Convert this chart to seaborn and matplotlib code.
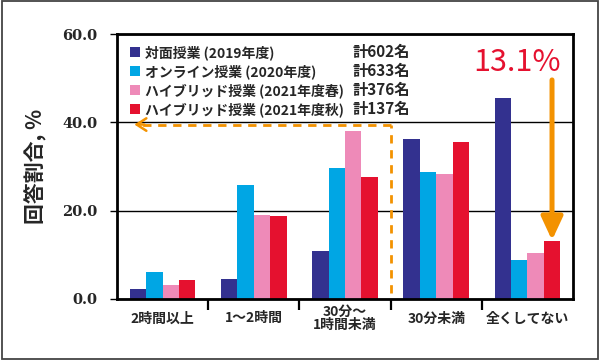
import matplotlib
matplotlib.use("Agg")
import matplotlib.pyplot as plt
from matplotlib.patches import Patch, Rectangle
import seaborn as sns
import pandas as pd
import numpy as np

# ---- data ----
categories = ["2時間以上", "1～2時間", "30分～\n1時間未満", "30分未満", "全くしてない"]
series = ["対面授業 (2019年度)", "オンライン授業 (2020年度)",
          "ハイブリッド授業 (2021年度春)", "ハイブリッド授業 (2021年度秋)"]
counts = ["計602名", "計633名", "計376名", "計137名"]
face2019 = [2.2, 4.5, 10.8, 36.2, 45.6]
online2020 = [6.1, 25.7, 29.7, 28.8, 8.8]
hybrid2021s = [3.2, 19.0, 38.1, 28.4, 10.5]
hybrid2021a = [4.2, 18.8, 27.6, 35.5, 13.1]
yticks = [0, 20, 40, 60]
colors = ["#33318F", "#00A6E4", "#EE8AB8", "#E5112F"]
orange = "#F39200"

values = [face2019, online2020, hybrid2021s, hybrid2021a]
df = pd.DataFrame({
    "cat": [c for s in series for c in categories],
    "series": [s for s in series for c in categories],
    "val": [v for vals in values for v in vals],
})

sns.set_style("white")
plt.rcParams["font.family"] = ["Noto Sans CJK JP", "DejaVu Sans"]
plt.rcParams["font.weight"] = "bold"

fig = plt.figure(figsize=(6, 3.6), dpi=100)
ax = fig.add_axes([117 / 600, 1 - 299 / 360, 456 / 600, 265 / 360])

group_w = 0.72
sns.barplot(data=df, x="cat", y="val", hue="series", palette=colors,
            width=group_w, saturation=1, linewidth=0, legend=False, ax=ax,
            order=categories, hue_order=series, zorder=2)

ax.set_xlim(-0.5, len(categories) - 0.5)
ax.set_ylim(0, 60)
ax.set_yticks(yticks)
ax.set_yticklabels([f"{t:.1f}" for t in yticks], fontfamily="DejaVu Serif",
                   fontweight="bold", fontsize=10.5)
ax.tick_params(axis="y", length=5, width=1, pad=9, color="black", left=True)

ax.set_xticks(range(len(categories)))
ax.set_xticklabels(categories, fontsize=10, fontweight="bold",
                   va="center", multialignment="center", linespacing=1.0)
ax.tick_params(axis="x", which="major", length=0, pad=14, bottom=True)
ax.set_xticks(np.arange(0.5, len(categories) - 1, 1.0), minor=True)
ax.tick_params(axis="x", which="minor", length=8, width=1.6, color="black",
               direction="out", bottom=True)

ax.set_xlabel("")
ax.set_ylabel("回答割合, %", fontsize=15, fontweight="bold")
ax.yaxis.set_label_coords((47 - 117) / 456, 0.5)

ax.set_axisbelow(True)
ax.yaxis.grid(True, color="black", lw=1)
ax.xaxis.grid(False)
for sp in ax.spines.values():
    sp.set_visible(True)
    sp.set_color("black")
    sp.set_linewidth(2)

# legend
handles = [Patch(facecolor=c, edgecolor="none") for c in colors]
leg = ax.legend(handles, series, loc="upper left", frameon=False,
                bbox_to_anchor=((130 - 117) / 456, (299 - 45) / 265),
                borderaxespad=0, borderpad=0, handlelength=0.75, handleheight=0.75,
                handletextpad=0.3, labelspacing=0.3,
                prop={"size": 10, "weight": "bold"})

fig.canvas.draw()
inv = ax.transAxes.inverted()
for t, c in zip(leg.get_texts(), counts):
    bb = t.get_window_extent()
    yc = (bb.y0 + bb.y1) / 2
    _, ya = inv.transform((0, yc))
    xa = (353 - 117) / 456
    ax.text(xa, ya, c, transform=ax.transAxes, ha="left", va="center",
            fontsize=11, fontweight="bold")

# highlight: red bar of last category
n_h = len(series)
bar_w = group_w / n_h
x_red = (len(categories) - 1) + (n_h - 1 - (n_h - 1) / 2) * bar_w
ax.annotate("", xy=(x_red, hybrid2021a[-1] + 0.2), xytext=(x_red, 49.6),
            arrowprops=dict(arrowstyle="-|>,head_length=1.4,head_width=0.65",
                            color=orange, lw=3.6, shrinkA=0, shrinkB=0,
                            mutation_scale=10), zorder=5)
ax.text(0.877, 0.892, f"{hybrid2021a[-1]:.1f}%", transform=ax.transAxes,
        ha="center", va="center", color="#E5112F", fontsize=22,
        fontweight="normal")

# dashed orange bracket
dash = (0, (3, 2.4))
ax.plot([2.5, 2.5], [1.4, 39.5], color=orange, lw=2, linestyle=dash, zorder=4)
ax.plot([2.5, -0.26], [39.5, 39.5], color=orange, lw=2, linestyle=dash, zorder=4)
ax.annotate("", xy=(-0.31, 39.5), xytext=(-0.2, 39.5),
            arrowprops=dict(arrowstyle="->,head_length=0.7,head_width=0.45",
                            color=orange, lw=1.8, shrinkA=0, shrinkB=0,
                            mutation_scale=10), zorder=4)

fig.add_artist(Rectangle((0.003, 0.004), 0.994, 0.992, transform=fig.transFigure,
                         fill=False, edgecolor="#444444", lw=1.3))

fig.savefig("out.png", dpi=100)
